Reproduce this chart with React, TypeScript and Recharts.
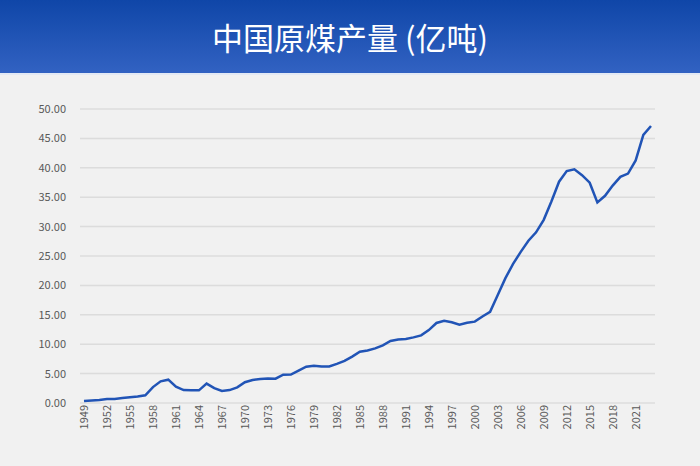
import { CartesianGrid, Line, LineChart, XAxis, YAxis } from "recharts";

// 中国原煤产量, 1949-2023, 单位: 亿吨
const years: number[] = [
  1949, 1950, 1951, 1952, 1953, 1954, 1955, 1956, 1957, 1958,
  1959, 1960, 1961, 1962, 1963, 1964, 1965, 1966, 1967, 1968,
  1969, 1970, 1971, 1972, 1973, 1974, 1975, 1976, 1977, 1978,
  1979, 1980, 1981, 1982, 1983, 1984, 1985, 1986, 1987, 1988,
  1989, 1990, 1991, 1992, 1993, 1994, 1995, 1996, 1997, 1998,
  1999, 2000, 2001, 2002, 2003, 2004, 2005, 2006, 2007, 2008,
  2009, 2010, 2011, 2012, 2013, 2014, 2015, 2016, 2017, 2018,
  2019, 2020, 2021, 2022, 2023,
];

const output: number[] = [
  0.32, 0.43, 0.53, 0.66, 0.7, 0.84, 0.98, 1.1, 1.31, 2.7,
  3.69, 3.97, 2.78, 2.2, 2.17, 2.15, 3.3, 2.52, 2.06, 2.2,
  2.66, 3.54, 3.92, 4.1, 4.17, 4.13, 4.82, 4.83, 5.5, 6.18,
  6.35, 6.2, 6.22, 6.66, 7.15, 7.89, 8.72, 8.94, 9.28, 9.8,
  10.54, 10.8, 10.87, 11.16, 11.5, 12.4, 13.61, 13.97, 13.73, 13.32,
  13.64, 13.84, 14.72, 15.5, 18.35, 21.23, 23.65, 25.7, 27.6, 29.03,
  31.15, 34.28, 37.64, 39.45, 39.74, 38.74, 37.47, 34.11, 35.24, 36.98,
  38.46, 39.02, 41.26, 45.6, 47.1,
];

const yTicks: number[] = [0, 5, 10, 15, 20, 25, 30, 35, 40, 45, 50];

const data = years.map((y, i) => ({ year: y, value: output[i] }));

const FONT = '"Noto Sans CJK SC", "Noto Sans", sans-serif';

function YearTick(props: any) {
  const { x, y, payload } = props;
  return (
    <text
      x={x}
      y={y}
      transform={`rotate(-90 ${x} ${y})`}
      textAnchor="end"
      dy="0.35em"
      fontSize={11}
      fill="#595959"
      fontFamily={FONT}
    >
      {payload.value}
    </text>
  );
}

export default function App() {
  return (
    <div
      style={{
        position: "absolute",
        left: 0,
        top: 0,
        width: 700,
        height: 466,
        background: "#f1f1f1",
        fontFamily: FONT,
        overflow: "hidden",
      }}
    >
      <div
        style={{
          height: 73,
          background: "linear-gradient(#0f46a8, #3262c2)",
          borderBottom: "2px solid #e3e9f4",
          color: "#fff",
          fontSize: 31,
          lineHeight: "73px",
          textAlign: "center",
          boxSizing: "content-box",
        }}
      >
        中国原煤产量 (亿吨)
      </div>
      <LineChart
        width={700}
        height={391}
        data={data}
        margin={{ top: 34, right: 45, left: 0, bottom: 0 }}
      >
        <CartesianGrid vertical={false} stroke="#dcdcdc" strokeWidth={1.5} />
        <XAxis
          dataKey="year"
          interval={2}
          axisLine={false}
          tickLine={false}
          tickSize={0}
          height={63}
          padding={{ left: 4, right: 4 }}
          tick={<YearTick />}
        />
        <YAxis
          domain={[0, 50]}
          ticks={yTicks}
          axisLine={false}
          tickLine={false}
          tickSize={0}
          tickMargin={14}
          width={80}
          tick={{ fontSize: 11, fill: "#595959", fontFamily: FONT }}
          tickFormatter={(v: number) => v.toFixed(2)}
        />
        <Line
          type="linear"
          dataKey="value"
          stroke="#2154b6"
          strokeWidth={2.5}
          dot={false}
          isAnimationActive={false}
        />
      </LineChart>
    </div>
  );
}
